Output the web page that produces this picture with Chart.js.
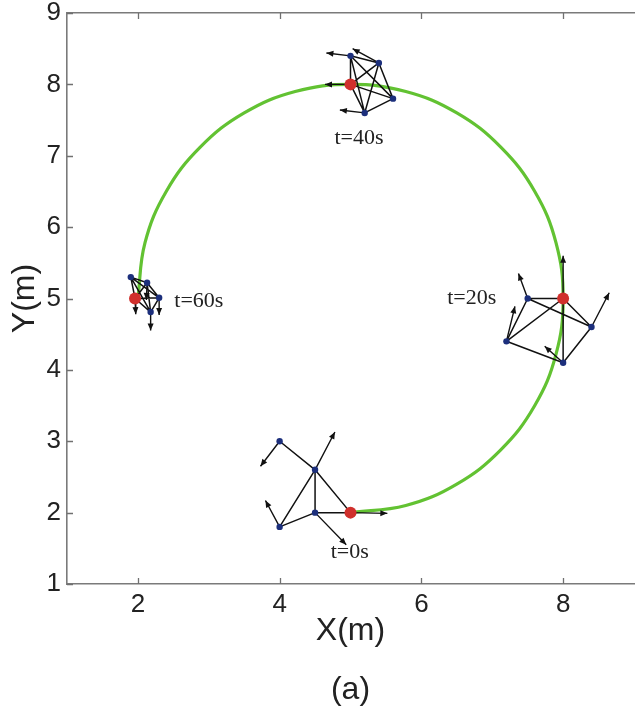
<!DOCTYPE html>
<html><head><meta charset="utf-8">
<script src="https://cdn.jsdelivr.net/npm/chart.js@4/dist/chart.umd.min.js"></script>
<style>html,body{margin:0;padding:0;background:#fff;overflow:hidden;width:636px;height:716px}canvas{display:block}</style>
</head><body>
<canvas id="c" width="640" height="716"></canvas>
<script>
// ---- data ----
const xTicks = [2, 4, 6, 8];
const yTicks = [1, 2, 3, 4, 5, 6, 7, 8, 9];

// green trajectory of the leader (estimated along the drawn arc)
const pathX = [5, 5.78, 6.5, 7.12, 7.6, 7.9, 8, 7.9, 7.6, 7.12, 6.5, 5.78, 5, 4.22, 3.5, 2.88, 2.4, 2.1, 2];
const pathY = [2, 2.1, 2.4, 2.88, 3.5, 4.22, 5, 5.78, 6.5, 7.12, 7.6, 7.9, 8, 7.9, 7.6, 7.12, 6.5, 5.78, 5];

// leader (red) positions at t = 0, 20, 40, 60 s
const leaderX = [5, 8, 5, 1.96];
const leaderY = [2, 5, 8, 5];

// follower (blue) positions
const followerX = [4, 4.5, 4.5, 4,   7.5, 8.4, 7.2, 8,   5, 5.4, 5.6, 5.2,   1.9, 2.13, 2.3, 2.18];
const followerY = [3, 2.6, 2.0, 1.8, 5.0, 4.6, 4.4, 4.1, 8.4, 8.3, 7.8, 7.6, 5.3, 5.22, 5.01, 4.81];

// communication links
const linkFromX = [4, 4.5, 4.5, 4.5, 4, 4.5,   7.5, 7.5, 7.5, 8, 8, 8, 7.2, 8.4,   5, 5, 5, 5, 5.4, 5.4, 5.4, 5, 5, 5.6,   1.9, 1.9, 1.9, 1.9, 2.13, 2.13, 2.13, 1.96, 1.96, 2.3];
const linkFromY = [3, 2.6, 2.6, 2.6, 1.8, 2.0, 5, 5, 5, 5, 5, 5, 4.4, 4.6,     8.4, 8.4, 8.4, 8.4, 8.3, 8.3, 8.3, 8, 8, 7.8,   5.3, 5.3, 5.3, 5.3, 5.22, 5.22, 5.22, 5.0, 5.0, 5.01];
const linkToX   = [4.5, 5, 4.5, 4, 4.5, 5,     8, 8.4, 7.2, 7.2, 8.4, 8, 8, 8,     5.4, 5, 5.6, 5.2, 5, 5.6, 5.2, 5.6, 5.2, 5.2,   2.13, 1.96, 2.3, 2.18, 1.96, 2.3, 2.18, 2.3, 2.18, 2.18];
const linkToY   = [2.6, 2, 2.0, 1.8, 2.0, 2,   5, 4.6, 4.4, 4.4, 4.6, 4.1, 4.1, 4.1, 8.3, 8, 7.8, 7.6, 8, 7.8, 7.6, 7.8, 7.6, 7.6,   5.22, 5.0, 5.01, 4.81, 5.0, 5.01, 4.81, 5.01, 4.81, 4.81];

// velocity arrows
const arrowFromX = [4, 4.5, 4, 4.5, 5,        8, 7.5, 8.4, 7.2, 8,        5, 5.4, 5, 5.2,       1.96, 2.3, 2.18, 2.13];
const arrowFromY = [3, 2.6, 1.8, 2.0, 2,      5, 5, 4.6, 4.4, 4.1,        8.4, 8.3, 8, 7.6,     5.0, 5.01, 4.81, 5.22];
const arrowToX   = [3.73, 4.78, 3.8, 4.94, 5.52, 8, 7.37, 8.65, 7.32, 7.74, 4.66, 5.03, 4.64, 4.85, 1.97, 2.3, 2.18, 2.12];
const arrowToY   = [2.65, 3.13, 2.17, 1.55, 1.99, 5.6, 5.35, 5.08, 4.89, 4.33, 8.44, 8.5, 8.0, 7.64, 4.78, 4.77, 4.55, 4.98];

// time annotations
const labelText = ['t=0s', 't=20s', 't=40s', 't=60s'];
const labelX = [4.99, 6.71, 5.12, 2.86];
const labelY = [1.44, 5.0, 7.25, 4.96];

// ---- build library data ----
function segs(fx, fy, tx, ty) {
  const out = [];
  for (let i = 0; i < fx.length; i++) {
    out.push({x: fx[i], y: fy[i]}, {x: tx[i], y: ty[i]}, {x: tx[i], y: null});
  }
  return out;
}
const pts = (xs, ys) => xs.map((v, i) => ({x: v, y: ys[i]}));

const overlay = {
  id: 'overlay',
  afterDatasetsDraw(chart) {
    const {ctx, scales: {x, y}} = chart;
    ctx.save();
    ctx.fillStyle = '#111';
    for (let i = 0; i < arrowFromX.length; i++) {
      const x0 = x.getPixelForValue(arrowFromX[i]), y0 = y.getPixelForValue(arrowFromY[i]);
      const x1 = x.getPixelForValue(arrowToX[i]), y1 = y.getPixelForValue(arrowToY[i]);
      const a = Math.atan2(y1 - y0, x1 - x0), L = 7, W = 3;
      ctx.beginPath();
      ctx.moveTo(x1, y1);
      ctx.lineTo(x1 - L * Math.cos(a) + W * Math.sin(a), y1 - L * Math.sin(a) - W * Math.cos(a));
      ctx.lineTo(x1 - L * Math.cos(a) - W * Math.sin(a), y1 - L * Math.sin(a) + W * Math.cos(a));
      ctx.closePath();
      ctx.fill();
    }
    ctx.font = '22px "Liberation Serif", "Times New Roman", serif';
    ctx.fillStyle = '#222';
    ctx.textAlign = 'center';
    ctx.textBaseline = 'middle';
    for (let i = 0; i < labelText.length; i++) {
      ctx.fillText(labelText[i], x.getPixelForValue(labelX[i]), y.getPixelForValue(labelY[i]));
    }
    ctx.restore();
  },
  afterDraw(chart) {
    const {ctx, scales: {x, y}, chartArea: a} = chart;
    ctx.save();
    ctx.strokeStyle = '#707070';
    ctx.lineWidth = 1.3;
    ctx.beginPath();
    xTicks.forEach(v => {
      const p = Math.round(x.getPixelForValue(v)) + 0.5;
      ctx.moveTo(p, a.bottom); ctx.lineTo(p, a.bottom - 6);
      ctx.moveTo(p, a.top); ctx.lineTo(p, a.top + 6);
    });
    yTicks.forEach(v => {
      const p = Math.round(y.getPixelForValue(v)) + 0.5;
      ctx.moveTo(a.left, p); ctx.lineTo(a.left + 6, p);
    });
    ctx.stroke();
    ctx.restore();
  }
};

const tickFont = {family: '"Liberation Sans", Arial, sans-serif', size: 26};
const titleFont = {family: '"Liberation Sans", Arial, sans-serif', size: 32, lineHeight: 1.82};

new Chart(document.getElementById('c'), {
  type: 'scatter',
  data: {
    datasets: [
      {label: 'leader', data: pts(leaderX, leaderY), pointRadius: 6, pointHoverRadius: 6,
       backgroundColor: '#d0302c', borderColor: '#c82a26', borderWidth: 0, order: 0},
      {label: 'followers', data: pts(followerX, followerY), pointRadius: 3.2, pointHoverRadius: 3.2,
       backgroundColor: '#1c2f7c', borderWidth: 0, order: 1},
      {label: 'links', data: segs(linkFromX, linkFromY, linkToX, linkToY), showLine: true, spanGaps: false,
       borderColor: '#111', borderWidth: 1.5, pointRadius: 0, order: 2},
      {label: 'velocity', data: segs(arrowFromX, arrowFromY, arrowToX, arrowToY), showLine: true, spanGaps: false,
       borderColor: '#111', borderWidth: 1.4, pointRadius: 0, order: 3},
      {label: 'trajectory', data: pts(pathX, pathY), showLine: true, tension: 0.4,
       borderColor: '#62c232', borderWidth: 3.2, pointRadius: 0, order: 4}
    ]
  },
  options: {
    responsive: false,
    animation: false,
    events: [],
    layout: {padding: {top: 13, right: 2, bottom: 0, left: 0}},
    plugins: {legend: {display: false}, tooltip: {enabled: false}},
    scales: {
      x: {
        type: 'linear', position: 'bottom', min: 1, max: 9,
        afterBuildTicks: s => { s.ticks = xTicks.map(v => ({value: v})); },
        afterFit: s => { s.height = 132; s.paddingLeft = 0; s.paddingRight = 0; },
        grid: {display: false, drawTicks: false},
        border: {display: true, color: '#7a7a7a', width: 1.6},
        ticks: {font: tickFont, color: '#222', padding: 5, maxRotation: 0, autoSkip: false},
        title: {display: true, text: ['X(m)', '(a)'], font: titleFont, color: '#222', padding: {top: 0, bottom: -3}}
      },
      xTop: {
        type: 'linear', position: 'top', min: 1, max: 9,
        afterFit: s => { s.height = 0; s.paddingLeft = 0; s.paddingRight = 0; },
        grid: {display: false, drawTicks: false},
        border: {display: true, color: '#7a7a7a', width: 1.6},
        ticks: {display: false}
      },
      y: {
        type: 'linear', position: 'left', min: 1, max: 9,
        afterBuildTicks: s => { s.ticks = yTicks.map(v => ({value: v})); },
        afterFit: s => { s.width = 67; s.paddingTop = 0; s.paddingBottom = 0; },
        grid: {display: false, drawTicks: false},
        border: {display: true, color: '#7a7a7a', width: 1.6},
        ticks: {font: tickFont, color: '#222', padding: 6, autoSkip: false},
        title: {display: true, text: 'Y(m)', font: {family: '"Liberation Sans", Arial, sans-serif', size: 32}, color: '#222', padding: {top: 6, bottom: 0}}
      }
    }
  },
  plugins: [overlay]
});
</script>
</body></html>
